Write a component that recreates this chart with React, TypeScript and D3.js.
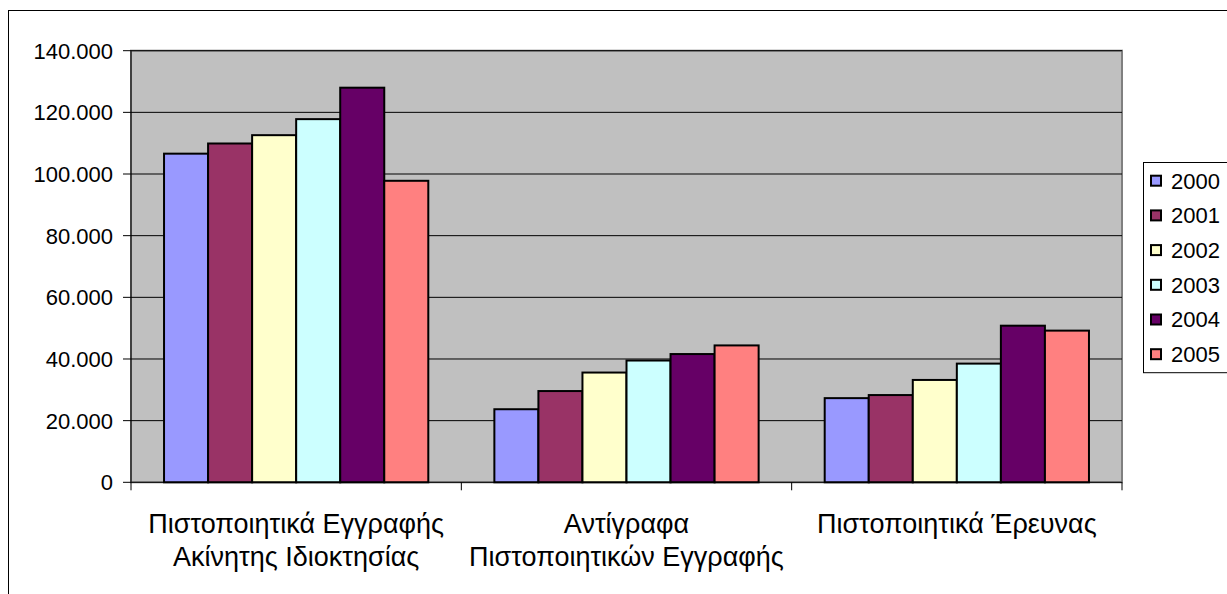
import React from "react";
import * as d3 from "d3";

const categories: string[][] = [
  ["Πιστοποιητικά Εγγραφής", "Ακίνητης Ιδιοκτησίας"],
  ["Αντίγραφα", "Πιστοποιητικών Εγγραφής"],
  ["Πιστοποιητικά Έρευνας"],
];
const years = ["2000", "2001", "2002", "2003", "2004", "2005"];
const values2000 = [106600, 23700, 27300];
const values2001 = [109900, 29600, 28300];
const values2002 = [112600, 35600, 33200];
const values2003 = [117800, 39500, 38500];
const values2004 = [128000, 41600, 50800];
const values2005 = [97800, 44400, 49200];
const seriesValues = [values2000, values2001, values2002, values2003, values2004, values2005];
const colors = ["#9999FF", "#993366", "#FFFFCC", "#CCFFFF", "#660066", "#FF8080"];
const yTicks = [0, 20000, 40000, 60000, 80000, 100000, 120000, 140000];

const fmt = (v: number) => (v === 0 ? "0" : d3.format(",")(v).replace(/,/g, "."));

export default function App() {
  const W = 1227, H = 594;
  const left = 131, right = 1122, top = 50.7, bottom = 482.3;
  const font = "'Liberation Sans', Arial, sans-serif";
  const x0 = d3.scaleBand<number>().domain(d3.range(categories.length)).range([left, right]).padding(0);
  const x1 = d3.scaleBand<string>().domain(years).range([0, x0.bandwidth()]).paddingInner(0).paddingOuter(0.75);
  const y = d3.scaleLinear().domain([0, 140000]).range([bottom, top]);
  const legendX = 1143, legendY = 162, legendStep = 34.7;
  return (
    <svg width={W} height={H} style={{ position: "absolute", left: 0, top: 0, background: "#fff" }} fontFamily={font}>
      <rect x={8.5} y={10.5} width={1400} height={800} fill="#fff" stroke="#000" strokeWidth={1} />
      <rect x={left} y={top} width={right - left} height={bottom - top} fill="#C0C0C0" stroke="#808080" strokeWidth={2} />
      {yTicks.map((t) => (
        <g key={t}>
          {t > 0 && <line x1={left} x2={right} y1={y(t)} y2={y(t)} stroke="#000" strokeWidth={1} />}
          <line x1={left - 8} x2={left} y1={y(t)} y2={y(t)} stroke="#000" strokeWidth={1} />
          <text x={113} y={y(t)} dy="0.36em" textAnchor="end" fontSize={22} fill="#000">{fmt(t)}</text>
        </g>
      ))}
      {categories.map((c, ci) => (
        <g key={ci} transform={`translate(${x0(ci)},0)`}>
          {years.map((yr, si) => {
            const v = seriesValues[si][ci];
            return (
              <rect key={yr} x={x1(yr)} y={y(v)} width={x1.bandwidth()} height={y(0) - y(v)}
                fill={colors[si]} stroke="#000" strokeWidth={2} />
            );
          })}
        </g>
      ))}
      <line x1={left} x2={left} y1={top} y2={bottom} stroke="#000" strokeWidth={1} />
      <line x1={left} x2={right} y1={bottom} y2={bottom} stroke="#000" strokeWidth={1} />
      {d3.range(categories.length + 1).map((i) => {
        const xx = left + i * x0.bandwidth();
        return <line key={i} x1={xx} x2={xx} y1={bottom} y2={bottom + 8} stroke="#000" strokeWidth={1} />;
      })}
      {categories.map((c, ci) => (
        <text key={ci} x={(x0(ci) as number) + x0.bandwidth() / 2} y={533} textAnchor="middle" fontSize={27} fill="#000">
          {c.map((line, li) => (
            <tspan key={li} x={(x0(ci) as number) + x0.bandwidth() / 2} dy={li === 0 ? 0 : 33}>{line}</tspan>
          ))}
        </text>
      ))}
      <rect x={legendX + 0.5} y={legendY + 0.5} width={200} height={legendStep * years.length + 2} fill="#fff" stroke="#000" strokeWidth={1} />
      {years.map((yr, i) => {
        const cy = 180.7 + i * legendStep;
        return (
          <g key={yr}>
            <rect x={1151} y={cy - 5} width={10} height={10} fill={colors[i]} stroke="#000" strokeWidth={2} />
            <text x={1171} y={cy} dy="0.36em" fontSize={22} fill="#000">{yr}</text>
          </g>
        );
      })}
    </svg>
  );
}
